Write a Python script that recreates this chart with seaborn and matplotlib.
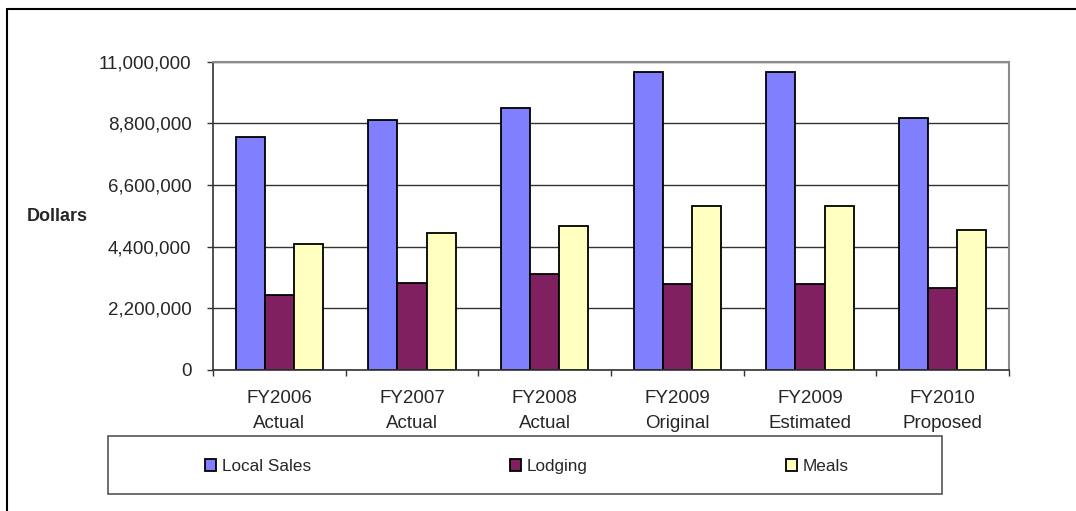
import matplotlib
matplotlib.use("Agg")
import matplotlib.pyplot as plt
from matplotlib.patches import Patch, Rectangle
from matplotlib.lines import Line2D
from matplotlib.ticker import FuncFormatter, FixedLocator
import seaborn as sns
import pandas as pd

# data
categories = ["FY2006\nActual", "FY2007\nActual", "FY2008\nActual",
              "FY2009\nOriginal", "FY2009\nEstimated", "FY2010\nProposed"]
series = ["Local Sales", "Lodging", "Meals"]
local_sales = [8317000, 8925000, 9366000, 10630000, 10630000, 9010000]
lodging = [2676000, 3105000, 3416000, 3050000, 3050000, 2900000]
meals = [4490000, 4894000, 5120000, 5860000, 5860000, 5000000]
colors = ["#8080FF", "#802060", "#FFFFC0"]
yticks = [0, 2200000, 4400000, 6600000, 8800000, 11000000]

rows = []
for name, vals in zip(series, [local_sales, lodging, meals]):
    for cat, v in zip(categories, vals):
        rows.append({"Year": cat, "Tax": name, "Dollars": v})
df = pd.DataFrame(rows)

sns.set_style("white")
plt.rcParams["font.family"] = ["Liberation Sans", "DejaVu Sans"]

W, H = 1076, 511
fig = plt.figure(figsize=(W / 100, H / 100), dpi=100)
ax = fig.add_axes([213 / W, 1 - 369.5 / H, (1009 - 213) / W, (369.5 - 62) / H])

sns.barplot(data=df, x="Year", y="Dollars", hue="Tax", order=categories,
            hue_order=series, palette=colors, width=0.66, gap=0,
            edgecolor="black", linewidth=1.3, saturation=1, ax=ax, legend=False)

ax.set_ylim(0, 11000000)
ax.set_xlim(-0.5, len(categories) - 0.5)
ax.set_yticks(yticks)
ax.yaxis.set_major_formatter(FuncFormatter(lambda v, p: f"{int(v):,}"))
ax.grid(axis="y", color="#333333", linewidth=1)
ax.set_axisbelow(True)

for s in ["top", "right"]:
    ax.spines[s].set_color("#8c8c8c")
    ax.spines[s].set_linewidth(1.5)
for s in ["left", "bottom"]:
    ax.spines[s].set_color("#333333")
    ax.spines[s].set_linewidth(1.2)

ax.tick_params(axis="y", direction="out", length=4.5, width=1, color="#333333",
               labelsize=13.5, left=True, pad=11)
ax.set_xticks(range(len(categories)))
ax.set_xticklabels(categories, fontsize=13.5, linespacing=1.62)
ax.tick_params(axis="x", which="major", length=0, pad=15)
ax.xaxis.set_minor_locator(FixedLocator([i - 0.5 for i in range(len(categories) + 1)]))
ax.tick_params(axis="x", which="minor", direction="out", length=4, width=1,
               color="#333333", bottom=True)

ax.set_xlabel("")
ax.set_ylabel("Dollars", rotation=0, fontweight="bold", fontsize=13, va="center")
ax.yaxis.set_label_coords((57.5 - 213) / (1009 - 213), (369.5 - 216) / 307.5)

# legend box
fig.patches.append(Rectangle((108 / W, 1 - 494 / H), (942 - 108) / W, (494 - 436) / H,
                             transform=fig.transFigure, fill=False,
                             edgecolor="#555555", linewidth=1.2))
handles = [Patch(facecolor=c, edgecolor="black", linewidth=1.3) for c in colors]
fig.legend(handles, series, loc="center", bbox_to_anchor=(527 / W, 1 - 466.5 / H),
           ncol=3, frameon=False, fontsize=12.3, handlelength=0.64, handleheight=0.64,
           handletextpad=0.35, columnspacing=11.6, borderpad=0, borderaxespad=0)

# outer chart border (top and left only visible)
fig.add_artist(Line2D([7 / W, 1], [1 - 9 / H, 1 - 9 / H], transform=fig.transFigure,
                      color="black", linewidth=1.5))
fig.add_artist(Line2D([7 / W, 7 / W], [0, 1 - 9 / H], transform=fig.transFigure,
                      color="black", linewidth=1.5))

fig.savefig("out.png", dpi=100)
